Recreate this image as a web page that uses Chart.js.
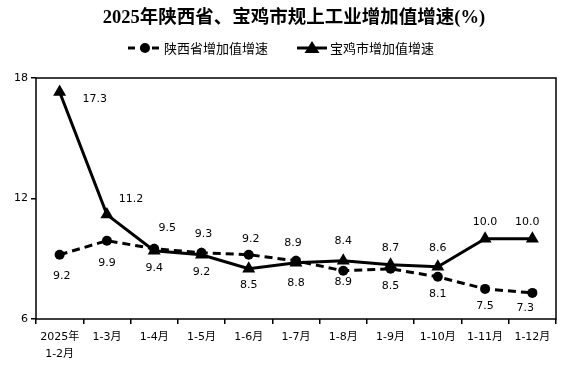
<!DOCTYPE html>
<html>
<head>
<meta charset="utf-8">
<script src="https://cdn.jsdelivr.net/npm/chart.js@4.4.1/dist/chart.umd.min.js"></script>
<style>
  html, body { margin: 0; padding: 0; background: #fff; }
  #wrap { width: 585px; height: 376px; }
</style>
</head>
<body>
<div id="wrap"><canvas id="growthChart"></canvas></div>
<script>
// chart values
const categories = [['2025年', '1-2月'], '1-3月', '1-4月', '1-5月', '1-6月', '1-7月', '1-8月', '1-9月', '1-10月', '1-11月', '1-12月'];
const shaanxiGrowth = [9.2, 9.9, 9.5, 9.3, 9.2, 8.9, 8.4, 8.5, 8.1, 7.5, 7.3];
const baojiGrowth = [17.3, 11.2, 9.4, 9.2, 8.5, 8.8, 8.9, 8.7, 8.6, 10.0, 10.0];
const yTicks = [6, 12, 18];
const titleText = '2025年陕西省、宝鸡市规上工业增加值增速(%)';
const shaanxiName = '陕西省增加值增速';
const baojiName = '宝鸡市增加值增速';

// where each value label sits relative to its point [dx, dy]
const shaanxiLabelOffset = [[2, 21], [0, 22], [13, -21], [2, -19], [2, -16], [-3, -18], [0, -30], [0, 17], [0, 17], [0, 17], [-7, 15]];
const baojiLabelOffset = [[35, 7], [24, -15], [0, 17], [0, 17], [0, 16], [0, 20], [0, 21], [0, -17], [0, -19], [0, -17], [-5, -17]];

const numFont = '11px "DejaVu Sans", "Noto Sans CJK SC", sans-serif';

// Plugin that draws title, legend, frame and value labels
const decorPlugin = {
    id: 'decor',
    beforeDatasetsDraw(chart) {
        const { ctx, chartArea } = chart;
        ctx.save();
        ctx.strokeStyle = '#000';
        ctx.lineWidth = 1.5;
        ctx.strokeRect(chartArea.left, chartArea.top, chartArea.right - chartArea.left, chartArea.bottom - chartArea.top);
        ctx.restore();
    },
    afterDraw(chart) {
        const { ctx } = chart;
        ctx.save();

        // title
        ctx.fillStyle = '#000';
        ctx.textAlign = 'center';
        ctx.textBaseline = 'middle';
        ctx.font = 'bold 18.5px "Liberation Serif", "Noto Sans CJK SC", serif';
        ctx.fillText(titleText, 294, 18);

        // legend
        const ly = 48;
        ctx.strokeStyle = '#000';
        ctx.lineWidth = 3;
        ctx.setLineDash([7, 5]);
        ctx.beginPath();
        ctx.moveTo(128, ly);
        ctx.lineTo(161, ly);
        ctx.stroke();
        ctx.setLineDash([]);
        ctx.beginPath();
        ctx.arc(145, ly, 5, 0, Math.PI * 2);
        ctx.fill();

        ctx.beginPath();
        ctx.moveTo(297, ly);
        ctx.lineTo(327, ly);
        ctx.stroke();
        ctx.beginPath();
        ctx.moveTo(312, ly - 7);
        ctx.lineTo(319.5, ly + 5);
        ctx.lineTo(304.5, ly + 5);
        ctx.closePath();
        ctx.fill();

        ctx.font = '13px "Noto Sans CJK SC", sans-serif';
        ctx.textAlign = 'left';
        ctx.fillText(shaanxiName, 164, ly);
        ctx.fillText(baojiName, 330, ly);

        // value labels
        ctx.font = numFont;
        ctx.textAlign = 'center';
        const offsets = [shaanxiLabelOffset, baojiLabelOffset];
        chart.data.datasets.forEach((ds, di) => {
            const meta = chart.getDatasetMeta(di);
            meta.data.forEach((pt, i) => {
                const off = offsets[di][i];
                ctx.fillText(ds.data[i].toFixed(1), pt.x + off[0], pt.y + off[1]);
            });
        });
        ctx.restore();
    }
};

const ctx = document.getElementById('growthChart').getContext('2d');

new Chart(ctx, {
    type: 'line',
    data: {
        labels: categories,
        datasets: [
            {
                label: shaanxiName,
                data: shaanxiGrowth,
                borderColor: '#000',
                backgroundColor: '#000',
                borderWidth: 3,
                borderDash: [8, 5],
                pointStyle: 'circle',
                pointRadius: 5,
                pointBorderWidth: 0,
                tension: 0
            },
            {
                label: baojiName,
                data: baojiGrowth,
                borderColor: '#000',
                backgroundColor: '#000',
                borderWidth: 3,
                pointStyle: 'triangle',
                pointRadius: 7.5,
                pointBorderWidth: 0,
                tension: 0
            }
        ]
    },
    options: {
        responsive: true,
        maintainAspectRatio: false,
        animation: false,
        layout: {
            padding: { top: 78, right: 29, left: 0, bottom: 0 }
        },
        plugins: {
            legend: { display: false },
            title: { display: false },
            tooltip: { enabled: false }
        },
        scales: {
            x: {
                offset: true,
                grid: {
                    offset: true,
                    drawOnChartArea: false,
                    drawTicks: true,
                    tickLength: 5,
                    color: '#000',
                    lineWidth: 1.5
                },
                border: { display: false },
                ticks: {
                    color: '#000',
                    padding: 4,
                    maxRotation: 0,
                    autoSkip: false,
                    font: { family: '"DejaVu Sans", "Noto Sans CJK SC", sans-serif', size: 11, lineHeight: 1.6 }
                },
                afterFit: (scale) => { scale.height = 57; }
            },
            y: {
                min: 6,
                max: 18,
                afterBuildTicks: (scale) => {
                    scale.ticks = yTicks.map(v => ({ value: v }));
                },
                grid: {
                    drawOnChartArea: false,
                    drawTicks: true,
                    tickLength: 5,
                    color: '#000',
                    lineWidth: 1.5
                },
                border: { display: false },
                ticks: {
                    color: '#000',
                    padding: 3,
                    font: { family: '"DejaVu Sans", sans-serif', size: 11 }
                },
                afterFit: (scale) => { scale.width = 36; }
            }
        }
    },
    plugins: [decorPlugin]
});
</script>
</body>
</html>
